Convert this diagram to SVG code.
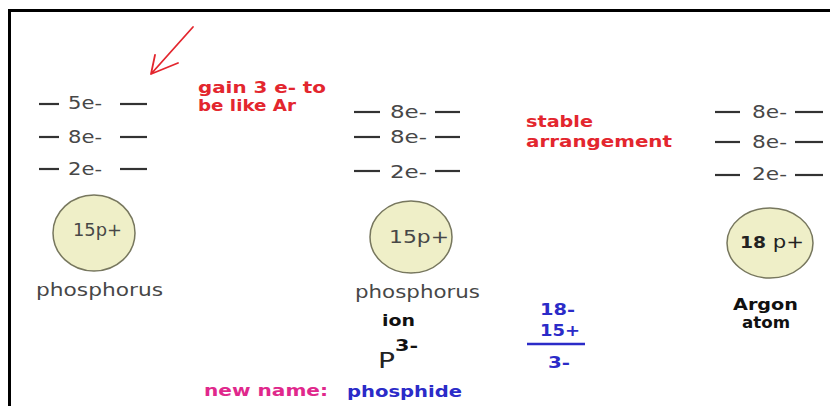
<svg xmlns="http://www.w3.org/2000/svg" width="830" height="406" viewBox="0 0 830 406">
<style>
.g{font-family:"DejaVu Sans",Verdana,sans-serif;font-size:17px;fill:#474747}
.b{font-family:"DejaVu Sans",Verdana,sans-serif;font-weight:bold;font-size:16px}
.red{fill:#e3262e}
.blue{fill:#2b2bc8}
.mag{fill:#e0288c}
.blk{fill:#111}
.dash{stroke:#333;stroke-width:2.2}
.nuc{fill:#efefc8;stroke:#77775e;stroke-width:1.5}
</style>
<rect x="0" y="0" width="830" height="406" fill="#fff"/>
<path d="M9.5 406 V10.5 H830" fill="none" stroke="#000" stroke-width="3"/>

<g id="connectors">
<path d="M193 27 L151 74 M151 74 L155 55 M151 74 L178 63" fill="none" stroke="#e3262e" stroke-width="1.8" stroke-linecap="round"/>
</g>

<g id="phosphorus-atom">
<line class="dash" x1="39" y1="104" x2="59" y2="104"/><text class="g" x="68" y="109" textLength="34" lengthAdjust="spacingAndGlyphs">5e-</text><line class="dash" x1="120" y1="104" x2="147" y2="104"/>
<line class="dash" x1="39" y1="137" x2="59" y2="137"/><text class="g" x="68" y="143" textLength="34" lengthAdjust="spacingAndGlyphs">8e-</text><line class="dash" x1="120" y1="137" x2="147" y2="137"/>
<line class="dash" x1="39" y1="169" x2="59" y2="169"/><text class="g" x="68" y="175" textLength="34" lengthAdjust="spacingAndGlyphs">2e-</text><line class="dash" x1="120" y1="169" x2="147" y2="169"/>
<ellipse class="nuc" cx="94" cy="233" rx="41" ry="38"/>
<text class="g" x="73" y="236" textLength="49" lengthAdjust="spacingAndGlyphs">15p+</text>
<text class="g" x="36" y="296" textLength="127" lengthAdjust="spacingAndGlyphs">phosphorus</text>
</g>

<g id="gain-note">
<text class="b red" x="198" y="93" textLength="128" lengthAdjust="spacingAndGlyphs">gain 3 e- to</text>
<text class="b red" x="198" y="111" textLength="98" lengthAdjust="spacingAndGlyphs">be like Ar</text>
</g>

<g id="phosphide-ion">
<line class="dash" x1="354" y1="112" x2="380" y2="112"/><text class="g" x="390" y="118" textLength="37" lengthAdjust="spacingAndGlyphs">8e-</text><line class="dash" x1="435" y1="112" x2="460" y2="112"/>
<line class="dash" x1="354" y1="137" x2="380" y2="137"/><text class="g" x="390" y="143" textLength="37" lengthAdjust="spacingAndGlyphs">8e-</text><line class="dash" x1="435" y1="137" x2="460" y2="137"/>
<line class="dash" x1="354" y1="171" x2="380" y2="171"/><text class="g" x="390" y="178" textLength="37" lengthAdjust="spacingAndGlyphs">2e-</text><line class="dash" x1="435" y1="171" x2="460" y2="171"/>
<ellipse class="nuc" cx="411" cy="237" rx="41" ry="36"/>
<text class="g" x="389" y="243" textLength="60" lengthAdjust="spacingAndGlyphs">15p+</text>
<text class="g" x="355" y="298" textLength="125" lengthAdjust="spacingAndGlyphs">phosphorus</text>
<text class="b blk" x="382" y="326" textLength="33" lengthAdjust="spacingAndGlyphs">ion</text>
<text class="g" x="378" y="368" style="font-size:21px;fill:#222" textLength="17" lengthAdjust="spacingAndGlyphs">P</text>
<text class="b blk" x="395" y="351" textLength="23" lengthAdjust="spacingAndGlyphs">3-</text>
</g>

<g id="stable-note">
<text class="b red" x="526" y="127" textLength="67" lengthAdjust="spacingAndGlyphs">stable</text>
<text class="b red" x="526" y="147" textLength="146" lengthAdjust="spacingAndGlyphs">arrangement</text>
</g>

<g id="charge-sum">
<text class="b blue" x="540" y="315" textLength="35" lengthAdjust="spacingAndGlyphs">18-</text>
<text class="b blue" x="540" y="336" textLength="40" lengthAdjust="spacingAndGlyphs">15+</text>
<line x1="527" y1="344" x2="585" y2="344" stroke="#2b2bc8" stroke-width="2.5"/>
<text class="b blue" x="548" y="368" textLength="22" lengthAdjust="spacingAndGlyphs">3-</text>
</g>

<g id="argon-atom">
<line class="dash" x1="715" y1="112" x2="740" y2="112"/><text class="g" x="752" y="118" textLength="35" lengthAdjust="spacingAndGlyphs">8e-</text><line class="dash" x1="795" y1="112" x2="823" y2="112"/>
<line class="dash" x1="715" y1="142" x2="740" y2="142"/><text class="g" x="752" y="148" textLength="35" lengthAdjust="spacingAndGlyphs">8e-</text><line class="dash" x1="795" y1="142" x2="823" y2="142"/>
<line class="dash" x1="715" y1="175" x2="740" y2="175"/><text class="g" x="752" y="180" textLength="35" lengthAdjust="spacingAndGlyphs">2e-</text><line class="dash" x1="795" y1="175" x2="823" y2="175"/>
<ellipse class="nuc" cx="770" cy="243" rx="43" ry="35"/>
<text x="740" y="248" class="g" style="fill:#222" textLength="64" lengthAdjust="spacingAndGlyphs"><tspan font-weight="bold" style="font-size:15px">18</tspan> p+</text>
<text class="b blk" x="733" y="310" textLength="65" lengthAdjust="spacingAndGlyphs">Argon</text>
<text class="b blk" x="742" y="328" textLength="48" lengthAdjust="spacingAndGlyphs">atom</text>
</g>

<g id="new-name">
<text class="b mag" x="204" y="396" textLength="124" lengthAdjust="spacingAndGlyphs">new name:</text>
<text class="b blue" x="347" y="397" textLength="115" lengthAdjust="spacingAndGlyphs">phosphide</text>
</g>
</svg>
